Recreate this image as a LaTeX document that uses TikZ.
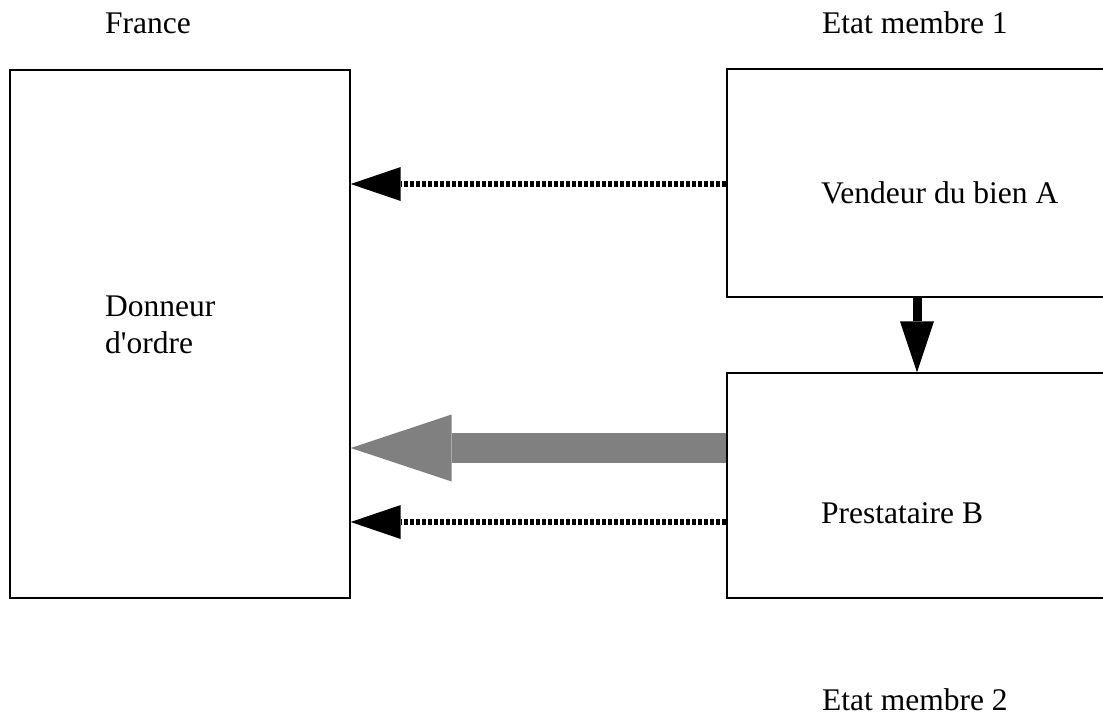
\documentclass[tikz,border=0pt]{standalone}
\usepackage{fontspec}
\setmainfont{Liberation Serif}
\usetikzlibrary{arrows.meta}
\tikzset{
  boxnode/.style={draw=black, line width=1.4pt, inner sep=0pt, rectangle},
  lbl/.style={inner sep=0pt, font=\fontsize{31.5}{37}\selectfont},
  dotarrow/.style={line width=6pt, dash pattern=on 4pt off 2pt, -{Triangle[length=50pt,width=34pt,line width=0pt]}},
  grayarrow/.style={line width=30pt, color={rgb,255:red,128;green,128;blue,128}, -{Triangle[length=101pt,width=67pt,line width=0pt]}},
  downarrow/.style={line width=9pt, -{Triangle[length=51pt,width=34pt,line width=0pt]}}
}
\begin{document}
\begin{tikzpicture}[x=1pt,y=-1pt]
\path[use as bounding box] (0,0) rectangle (1103,716);
\clip (0,0) rectangle (1103,716);
\fill[white] (0,0) rectangle (1103,716);
% boxes
\node[boxnode, minimum width=340pt, minimum height=528pt] (donneur) at (180,334) {};
\node[boxnode, minimum width=390pt, minimum height=228pt] (vendeur) at (922,183) {};
\node[boxnode, minimum width=390pt, minimum height=225pt] (prest) at (922,485.5) {};
% labels
\node[lbl, anchor=base west] (france) at (105,33) {France};
\node[lbl, anchor=base west] (em1) at (822,33) {Etat membre 1};
\node[lbl, anchor=base west] (em2) at (822,710) {Etat membre 2};
\node[lbl, anchor=base west] (tvend) at (821,203) {Vendeur du bien A};
\node[lbl, anchor=base west] (tprest) at (821,523) {Prestataire B};
\node[lbl, anchor=north west, align=left] (tdon) at (105,295.5) {Donneur\\d\textquotesingle ordre};
% connectors
\draw[dotarrow] (vendeur.west |- 0,184) -- (donneur.east |- 0,184);
\draw[dotarrow] (prest.west |- 0,522) -- (donneur.east |- 0,522);
\draw[grayarrow] (prest.west |- 0,448) -- (donneur.east |- 0,448);
\draw[downarrow] (vendeur.south -| 917,0) -- (prest.north -| 917,0);
\end{tikzpicture}
\end{document}
